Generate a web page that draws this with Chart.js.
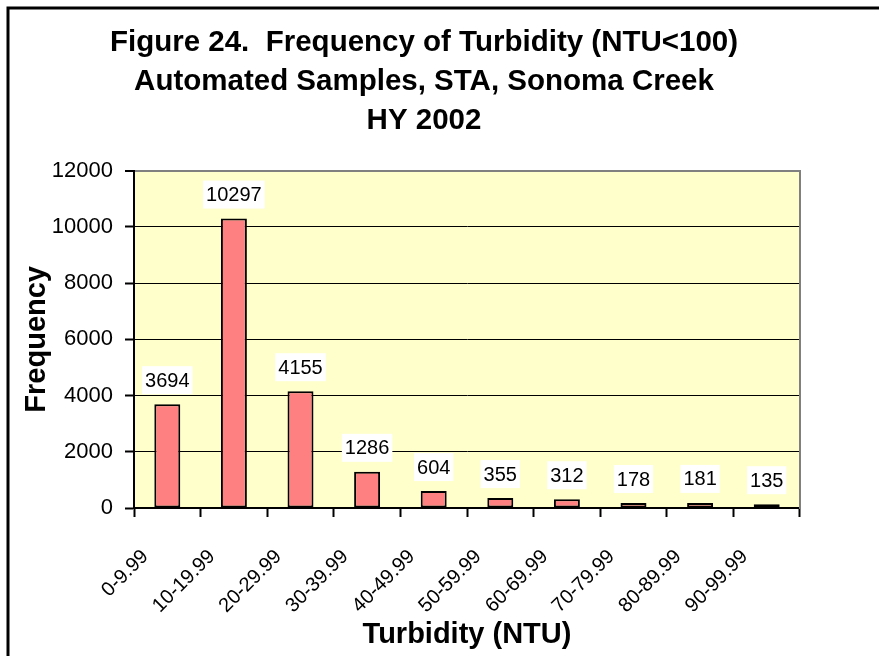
<!DOCTYPE html>
<html>
<head>
<meta charset="utf-8">
<title>Frequency of Turbidity</title>
<script src="https://cdn.jsdelivr.net/npm/chart.js@4.4.1/dist/chart.umd.min.js"></script>
<style>
  body { margin: 0; background: #fff; }
  #wrap { width: 879px; height: 656px; }
</style>
</head>
<body>
<div id="wrap"><canvas id="chart" width="879" height="656"></canvas></div>
<script>
// data
const categories = ['0-9.99', '10-19.99', '20-29.99', '30-39.99', '40-49.99',
                    '50-59.99', '60-69.99', '70-79.99', '80-89.99', '90-99.99'];
const frequency = [3694, 10297, 4155, 1286, 604, 355, 312, 178, 181, 135];
const titleLines = ['Figure 24.  Frequency of Turbidity (NTU<100)',
                    'Automated Samples, STA, Sonoma Creek',
                    'HY 2002'];
const yMin = 0;
const yMax = 12000;
const yStep = 2000;

const fontFamily = "'Liberation Sans', Arial, Helvetica, sans-serif";

// page frame, plot background
const backdrop = {
    id: 'backdrop',
    beforeDraw(chart) {
        const ctx = chart.ctx;
        const a = chart.chartArea;
        ctx.save();
        ctx.fillStyle = '#ffffff';
        ctx.fillRect(0, 0, chart.width, chart.height);
        ctx.fillStyle = '#FFFFCC';
        ctx.fillRect(a.left, a.top, a.right - a.left, a.bottom - a.top);
        ctx.strokeStyle = '#000000';
        ctx.lineWidth = 3;
        ctx.beginPath();
        ctx.moveTo(8, chart.height);
        ctx.lineTo(8, 8);
        ctx.lineTo(chart.width, 8);
        ctx.stroke();
        ctx.restore();
    }
};

// value labels above each bar, white box behind
const barLabels = {
    id: 'barLabels',
    afterDatasetsDraw(chart) {
        const ctx = chart.ctx;
        const meta = chart.getDatasetMeta(0);
        ctx.save();
        ctx.font = '20px ' + fontFamily;
        ctx.textAlign = 'center';
        ctx.textBaseline = 'middle';
        meta.data.forEach((bar, i) => {
            const txt = String(chart.data.datasets[0].data[i]);
            const w = ctx.measureText(txt).width + 6;
            const h = 28;
            const cy = bar.y - 24;
            ctx.fillStyle = '#ffffff';
            ctx.fillRect(bar.x - w / 2, cy - h / 2, w, h);
            ctx.fillStyle = '#000000';
            ctx.fillText(txt, bar.x, cy + 1);
        });
        ctx.restore();
    }
};

const ctx = document.getElementById('chart').getContext('2d');
const chart = new Chart(ctx, {
    type: 'bar',
    data: {
        labels: categories,
        datasets: [{
            label: 'Frequency',
            data: frequency,
            backgroundColor: '#FF8080',
            borderColor: '#000000',
            borderWidth: 2,
            borderSkipped: false,
            barPercentage: 0.39,
            categoryPercentage: 1.0
        }]
    },
    options: {
        responsive: false,
        devicePixelRatio: 1,
        animation: false,
        layout: { padding: { left: 0, right: 31, top: 0, bottom: 0 } },
        plugins: {
            legend: { display: false },
            tooltip: { enabled: false },
            title: {
                display: true,
                text: titleLines,
                color: '#000000',
                font: { family: fontFamily, size: 29.5, weight: 'bold', lineHeight: 1.33 },
                padding: { top: 23, bottom: 30 }
            }
        },
        scales: {
            x: {
                offset: true,
                grid: {
                    display: true,
                    offset: true,
                    drawOnChartArea: false,
                    drawTicks: true,
                    tickLength: 9,
                    tickWidth: 2,
                    tickColor: '#000000'
                },
                border: { display: true, color: '#000000', width: 2 },
                ticks: {
                    color: '#000000',
                    font: { family: fontFamily, size: 20 },
                    maxRotation: 45,
                    minRotation: 45,
                    padding: 28,
                    labelOffset: -22,
                    autoSkip: false
                },
                title: {
                    display: true,
                    text: 'Turbidity (NTU)',
                    color: '#000000',
                    font: { family: fontFamily, size: 29, weight: 'bold', lineHeight: 1.2 },
                    padding: { top: 0, bottom: 4 }
                },
                afterFit(scale) { scale.height = 148; }
            },
            y: {
                min: yMin,
                max: yMax,
                grid: {
                    color: c => (c.tick && c.tick.value === yMax ? '#808080' : '#000000'),
                    lineWidth: c => (c.tick && c.tick.value === yMax ? 2 : 1),
                    tickLength: 9,
                    tickWidth: 2,
                    tickColor: '#000000'
                },
                border: { display: true, color: '#000000', width: 2 },
                ticks: {
                    stepSize: yStep,
                    color: '#000000',
                    font: { family: fontFamily, size: 22 },
                    padding: 12,
                    callback: v => String(v)
                },
                title: {
                    display: true,
                    text: 'Frequency',
                    color: '#000000',
                    font: { family: fontFamily, size: 29, weight: 'bold', lineHeight: 1.2 },
                    padding: { top: 20, bottom: 0 }
                },
                afterFit(scale) { scale.width = 134; }
            },
            // right edge of the plot frame only
            yRight: {
                position: 'right',
                min: yMin,
                max: yMax,
                grid: { display: false, drawTicks: false },
                border: { display: true, color: '#808080', width: 2 },
                ticks: { display: false },
                afterFit(scale) { scale.width = 48; }
            }
        }
    },
    plugins: [backdrop, barLabels]
});
</script>
</body>
</html>
